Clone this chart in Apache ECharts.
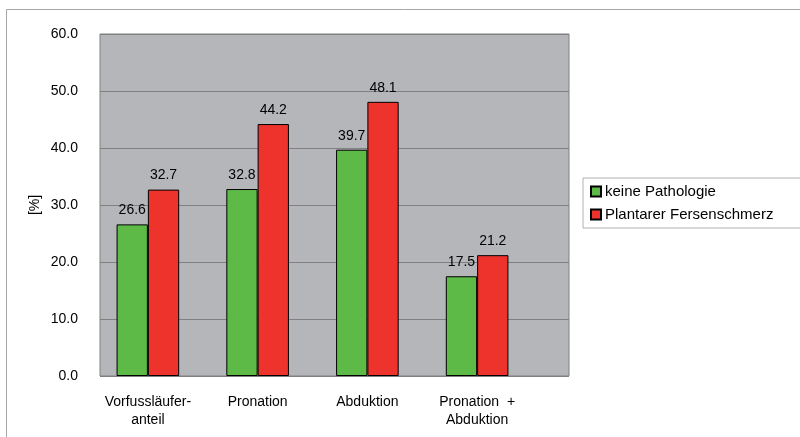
<!DOCTYPE html>
<html><head><meta charset="utf-8">
<script src="https://cdn.jsdelivr.net/npm/echarts@6/dist/echarts.min.js"></script>
<style>html,body{margin:0;padding:0;background:#fff}#c{width:800px;height:437px}</style>
</head><body><div id="c"></div>
<script>
const categories = ['Vorfussläufer-\nanteil', 'Pronation', 'Abduktion', 'Pronation  +\nAbduktion'];
const seriesNames = ['keine Pathologie', 'Plantarer Fersenschmerz'];
const keinePathologie = [26.6, 32.8, 39.7, 17.5];
const plantarerFersenschmerz = [32.7, 44.2, 48.1, 21.2];
const yTicks = [0, 10, 20, 30, 40, 50, 60];

const FONT = 'Liberation Sans, Arial, sans-serif';
const chart = echarts.init(document.getElementById('c'), null, {renderer: 'canvas'});
const yMin = yTicks[0], yMax = yTicks[yTicks.length - 1], yStep = yTicks[1] - yTicks[0];
const labelStyle = {show: true, position: 'top', distance: 7, color: '#000', fontFamily: FONT, fontSize: 14,
  formatter: p => p.value.toFixed(1)};
chart.setOption({
  animation: false,
  backgroundColor: '#fff',
  graphic: [{type: 'rect', shape: {x: 6.5, y: 9.5, width: 900, height: 500}, style: {fill: 'none', stroke: '#a6a6a6', lineWidth: 1}, z: -10}],
  grid: [
    {left: 100, top: 34, width: 469, height: 342, show: true, backgroundColor: '#b5b6ba', borderColor: '#808080', borderWidth: 1},
    {left: 93, top: 34, width: 439, height: 342}
  ],
  legend: {
    orient: 'vertical', left: 583, top: 178, itemWidth: 10, itemHeight: 10, itemGap: 8,
    padding: [6, 40, 6, 7], borderColor: '#b0b0b0', borderWidth: 1,
    icon: 'rect',
    textStyle: {fontFamily: FONT, fontSize: 15, color: '#000', padding: [0, 0, 0, -1]},
    data: seriesNames
  },
  xAxis: [
    {type: 'value', gridIndex: 0, min: 0, max: 1, show: false},
    {type: 'category', gridIndex: 1, data: categories,
     axisLine: {show: false}, axisTick: {show: false},
     axisLabel: {fontFamily: FONT, fontSize: 14, color: '#000', margin: 17, lineHeight: 18, interval: 0}}
  ],
  yAxis: [
    {type: 'value', gridIndex: 0, min: yMin, max: yMax, interval: yStep,
     axisLine: {show: false}, axisTick: {show: false},
     axisLabel: {fontFamily: FONT, fontSize: 14, color: '#000', margin: 22, formatter: v => v.toFixed(1)},
     splitLine: {show: true, lineStyle: {color: '#808080', width: 1}},
     name: '[%]', nameLocation: 'middle', nameGap: 58, nameRotate: 90, nameMoveOverlap: false,
     nameTextStyle: {fontFamily: FONT, fontSize: 14, color: '#000'}},
    {type: 'value', gridIndex: 1, min: yMin, max: yMax, interval: yStep, show: false, splitLine: {show: false}}
  ],
  series: [
    {name: seriesNames[0], type: 'bar', xAxisIndex: 1, yAxisIndex: 1, data: keinePathologie, barWidth: 31.3, barGap: '0%',
     itemStyle: {color: '#5dba47', borderColor: '#000', borderWidth: 1}, label: labelStyle},
    {name: seriesNames[1], type: 'bar', xAxisIndex: 1, yAxisIndex: 1, data: plantarerFersenschmerz, barWidth: 31.3, barGap: '0%',
     itemStyle: {color: '#ee322c', borderColor: '#000', borderWidth: 1}, label: labelStyle}
  ]
});
</script></body></html>
